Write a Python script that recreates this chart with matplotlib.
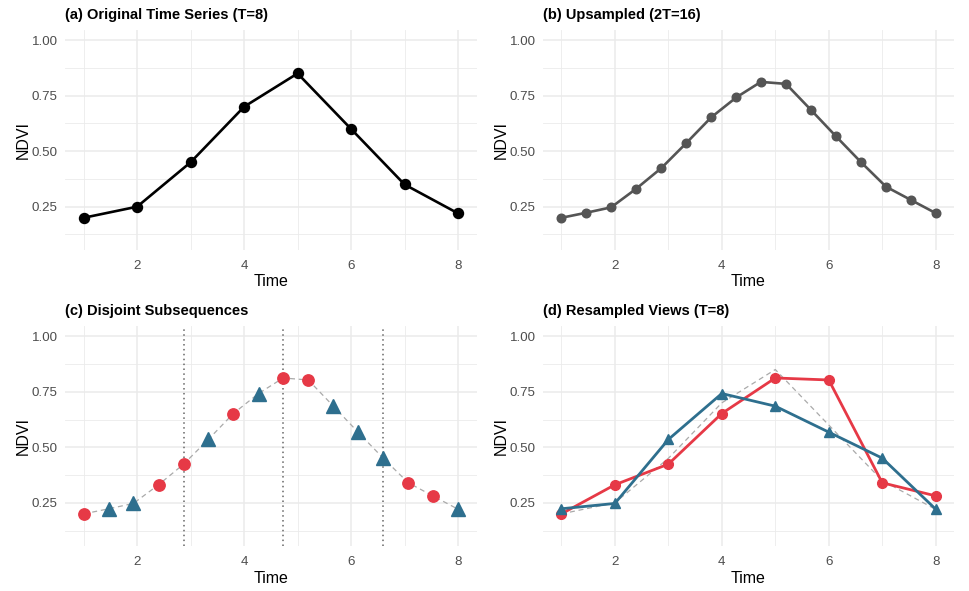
import numpy as np
import matplotlib.pyplot as plt
from matplotlib.ticker import MultipleLocator

plt.rcParams['font.family'] = ['Liberation Sans', 'DejaVu Sans']

# original series (T=8)
time = [1, 2, 3, 4, 5, 6, 7, 8]
ndvi = [0.20, 0.25, 0.45, 0.70, 0.85, 0.60, 0.35, 0.22]

# upsampled series (2T=16)
time_up = [1.00, 1.47, 1.93, 2.40, 2.87, 3.33, 3.80, 4.27,
           4.73, 5.20, 5.67, 6.13, 6.60, 7.07, 7.53, 8.00]
ndvi_up = [0.200, 0.223, 0.247, 0.331, 0.424, 0.535, 0.652, 0.742,
           0.812, 0.803, 0.685, 0.568, 0.451, 0.340, 0.281, 0.221]

# which upsampled points belong to each view
view_red_idx = [0, 3, 4, 6, 8, 9, 13, 14]
view_blue_idx = [1, 2, 5, 7, 10, 11, 12, 15]

# subsequence boundaries
boundaries = [2.87, 4.73, 6.60]

titles = ["(a) Original Time Series (T=8)", "(b) Upsampled (2T=16)",
          "(c) Disjoint Subsequences", "(d) Resampled Views (T=8)"]

RED = "#E63946"
BLUE = "#2E6F8E"

fig = plt.figure(figsize=(9.69, 5.91), dpi=100)
pos = [[0.067, 0.577, 0.425, 0.372], [0.560, 0.577, 0.425, 0.372],
       [0.067, 0.076, 0.425, 0.372], [0.560, 0.076, 0.425, 0.372]]
axes = [fig.add_axes(p) for p in pos]


def style(ax, title):
    ax.set_xlim(0.65, 8.35)
    ax.set_ylim(0.055, 1.045)
    ax.xaxis.set_major_locator(MultipleLocator(2))
    ax.xaxis.set_minor_locator(MultipleLocator(1))
    ax.set_yticks([0.25, 0.50, 0.75, 1.00])
    ax.set_yticklabels(["0.25", "0.50", "0.75", "1.00"])
    ax.set_yticks([0.125, 0.375, 0.625, 0.875], minor=True)
    ax.grid(which='major', color='#EBEBEB', linewidth=1.1)
    ax.grid(which='minor', color='#EBEBEB', linewidth=0.6)
    ax.set_axisbelow(True)
    for s in ax.spines.values():
        s.set_visible(False)
    ax.tick_params(which='both', length=0, labelsize=9.6, labelcolor='#4D4D4D')
    ax.tick_params(axis='x', pad=7)
    ax.tick_params(axis='y', pad=5)
    ax.set_xlabel("Time", fontsize=11.5, labelpad=2)
    ax.set_ylabel("NDVI", fontsize=11.5, labelpad=1)
    ax.set_title(title, loc='left', fontsize=10.5, fontweight='bold', pad=8)


# (a)
ax = axes[0]
ax.plot(time, ndvi, color='black', linewidth=1.9, marker='o', markersize=7.2)
style(ax, titles[0])

# (b)
ax = axes[1]
ax.plot(time_up, ndvi_up, color='#555555', linewidth=1.9, marker='o', markersize=6.2)
style(ax, titles[1])

# (c)
ax = axes[2]
ax.plot(time_up, ndvi_up, color='#AAAAAA', linewidth=0.9, linestyle=(0, (4, 3)))
for b in boundaries:
    ax.axvline(b, color='#666666', linewidth=1.1, linestyle=(0, (1, 2.2)))
ax.plot([time_up[i] for i in view_red_idx], [ndvi_up[i] for i in view_red_idx],
        linestyle='none', marker='o', markersize=8.2, color=RED)
ax.plot([time_up[i] for i in view_blue_idx], [ndvi_up[i] for i in view_blue_idx],
        linestyle='none', marker='^', markersize=9.5, color=BLUE)
style(ax, titles[2])

# (d)
ax = axes[3]
ax.plot(time, ndvi, color='#AAAAAA', linewidth=0.9, linestyle=(0, (4, 3)))
ax.plot(time, [ndvi_up[i] for i in view_red_idx], color=RED, linewidth=2.0,
        marker='o', markersize=7)
ax.plot(time, [ndvi_up[i] for i in view_blue_idx], color=BLUE, linewidth=2.0,
        marker='^', markersize=7.5)
style(ax, titles[3])

fig.savefig("out.png", dpi=100)
